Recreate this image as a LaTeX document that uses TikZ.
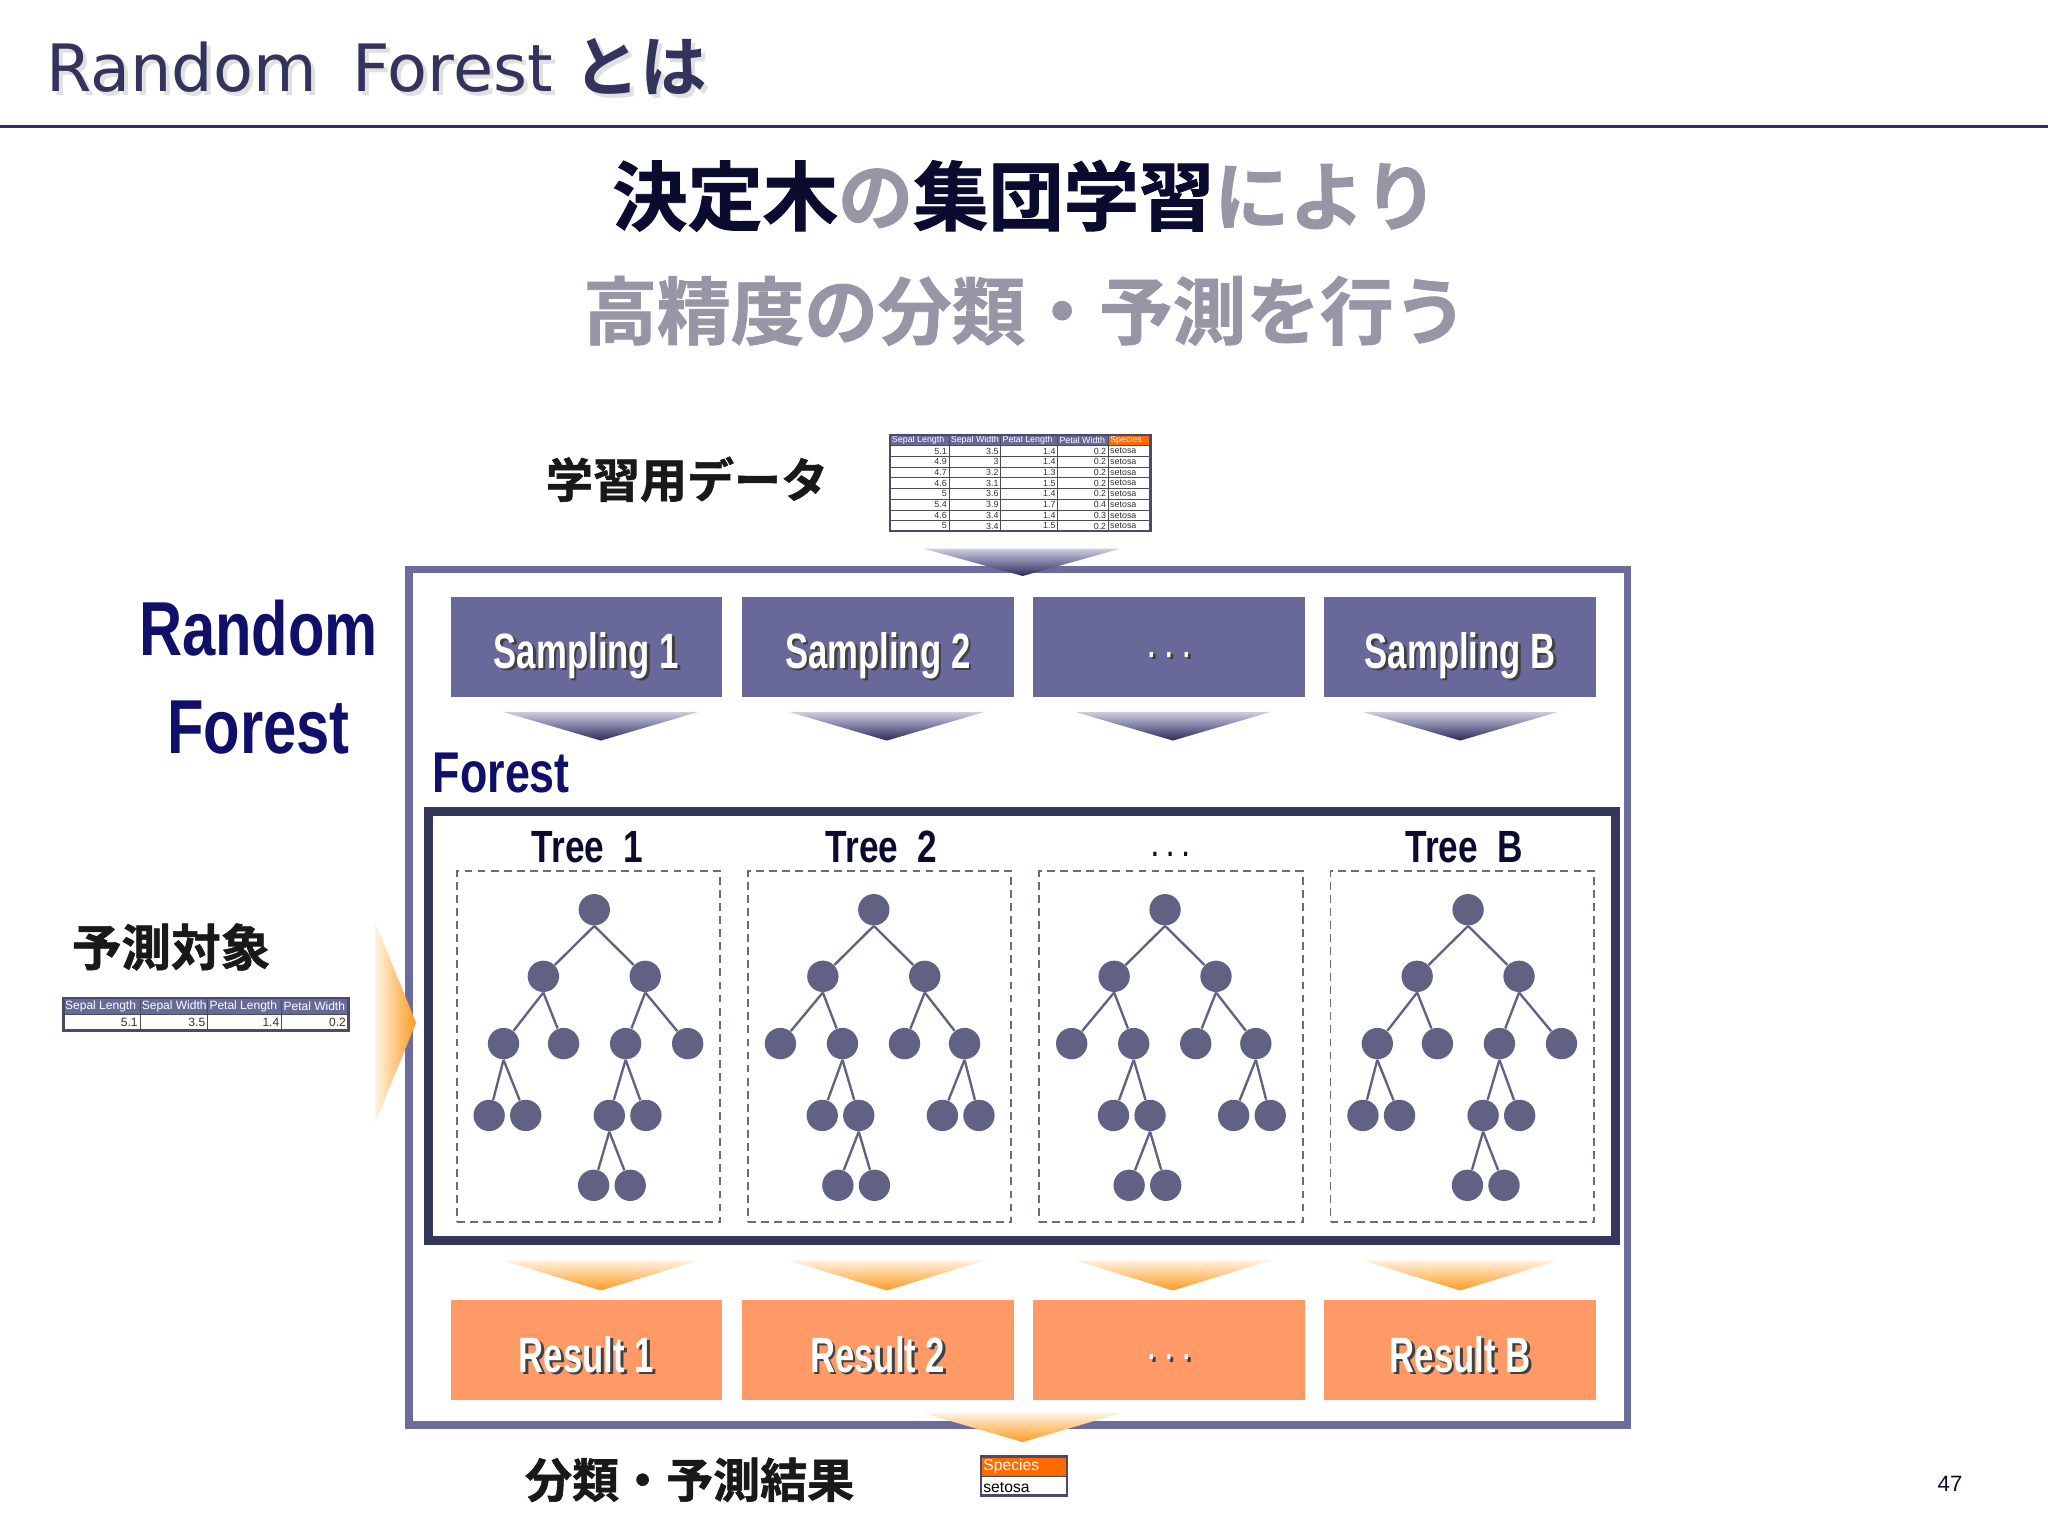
\documentclass[tikz,border=0pt]{standalone}
\usepackage{fontspec}
\setmainfont{Liberation Sans}
\newfontfamily\jpb{Noto Sans CJK JP}[UprightFont=* Bold, FakeBold=1.2]
\newfontfamily\jpt{Noto Sans CJK JP}[UprightFont=* Bold]
\newfontfamily\dv{DejaVu Sans}
\newfontfamily\condA{Liberation Sans}[UprightFont=* Bold, FakeStretch=0.78]
\newfontfamily\condB{Liberation Sans}[UprightFont=* Bold, FakeStretch=0.7]
\usetikzlibrary{calc}
\definecolor{sampc}{HTML}{68689A}
\definecolor{outerc}{HTML}{6C6C9C}
\definecolor{innerc}{HTML}{36365C}
\definecolor{resc}{HTML}{FF9A66}
\definecolor{treec}{HTML}{616183}
\definecolor{navy}{HTML}{10106A}
\definecolor{titlec}{HTML}{33335C}
\definecolor{headdark}{HTML}{0B0B30}
\definecolor{headgray}{HTML}{9696A6}
\definecolor{lineC}{HTML}{2E2A70}
\definecolor{spc}{HTML}{FF6A00}
\definecolor{alight}{HTML}{CDCDE2}
\definecolor{adark}{HTML}{2A2A5E}
\definecolor{olight}{HTML}{FFF2DE}
\definecolor{odark}{HTML}{FF9A22}
\definecolor{tframe}{HTML}{4A4A6A}
\definecolor{dashc}{HTML}{6A6A80}
\newcommand{\shd}[1]{\leavevmode\rlap{\raisebox{-1pt}{\hspace{1pt}\textcolor{black!75}{#1}}}#1}
\newcommand{\lshd}[1]{\leavevmode\rlap{\raisebox{-1.5pt}{\hspace{1.5pt}\textcolor{black!12}{#1}}}#1}
\newcommand{\tdots}{.\hspace{0.32em}.\hspace{0.32em}.}
\newcommand{\drawtree}[4]{%
\begin{scope}[shift={(#2,#3)},xscale=#4]
\node[tn] (#1r) at (0,0) {};
\node[tn] (#1a) at (-39,51) {};
\node[tn] (#1b) at (39,51) {};
\node[tn] (#1c) at (-69.5,102.5) {};
\node[tn] (#1d) at (-23.5,102.5) {};
\node[tn] (#1e) at (24,102.5) {};
\node[tn] (#1f) at (71.5,102.5) {};
\node[tn] (#1g) at (-80.5,157.5) {};
\node[tn] (#1h) at (-52.5,157.5) {};
\node[tn] (#1i) at (11.5,157.5) {};
\node[tn] (#1j) at (39.5,157.5) {};
\node[tn] (#1k) at (-0.5,211) {};
\node[tn] (#1l) at (27.5,211) {};
\draw[te] (#1r.south) -- (#1a);
\draw[te] (#1r.south) -- (#1b);
\draw[te] (#1a.south) -- (#1c);
\draw[te] (#1a.south) -- (#1d);
\draw[te] (#1b.south) -- (#1e);
\draw[te] (#1b.south) -- (#1f);
\draw[te] (#1c.south) -- (#1g);
\draw[te] (#1c.south) -- (#1h);
\draw[te] (#1e.south) -- (#1i);
\draw[te] (#1e.south) -- (#1j);
\draw[te] (#1i.south) -- (#1k);
\draw[te] (#1i.south) -- (#1l);
\end{scope}}
\begin{document}
\begin{tikzpicture}[x=0.5pt,y=-0.5pt,
  sampbox/.style={fill=sampc, minimum width=104pt, minimum height=38.5pt, inner sep=0pt, text=white, text height=18pt, text depth=2pt, font={\fontsize{19}{19}\condB}},
  resbox/.style={fill=resc, minimum width=104pt, minimum height=38.5pt, inner sep=0pt, text=white, text height=18pt, text depth=1pt, font={\fontsize{19}{19}\condB}},
  tn/.style={circle, fill=treec, minimum size=12pt, inner sep=0pt},
  te/.style={draw=treec, line width=0.9pt},
  dbox/.style={draw=dashc, dash pattern=on 3pt off 2pt, line width=0.7pt, minimum width=100.8pt, minimum height=134.4pt, inner sep=0pt},
  treelbl/.style={anchor=base, text=headdark, font={\fontsize{17.3}{17.3}\condA}},
  jplbl/.style={text=black!90, font={\fontsize{18}{18}\jpb}},
  cellt/.style={inner sep=0pt, font={\fontsize{3.4}{3.4}\selectfont}, text=black!80},
  cellh/.style={inner sep=0pt, font={\fontsize{3.4}{3.4}\selectfont}, text=white},
  tline/.style={draw=black!70, line width=0.3pt}
]
\useasboundingbox (0,0) rectangle (1568,1176);
\fill[white] (0,0) rectangle (1568,1176);

% title
\node[anchor=base west, inner sep=0pt, text=titlec] (title) at (35,70) {\lshd{\fontsize{25}{25}\dv Random\hspace{0.55em}Forest \fontsize{25.5}{25.5}\jpt とは}};
\draw[lineC, line width=1.2pt] (0,97) -- (1568,97);

% headline
\node (h1) at (785,150) {\fontsize{28.8}{28.8}\jpb\textcolor{headdark}{決定木}\textcolor{headgray}{の}\textcolor{headdark}{集団学習}\textcolor{headgray}{により}};
\node (h2) at (785,238) {\fontsize{28.2}{28.2}\jpb\textcolor{headgray}{高精度の分類・予測を行う}};

% labels
\node[jplbl] (ld) at (526,367) {学習用データ};
\node[jplbl, font={\fontsize{19}{19}\jpb}] (yt) at (131,725) {予測対象};
\node[jplbl] (kk) at (528,1133) {分類・予測結果};
\node[anchor=base, text=navy, font={\fontsize{29.3}{29.3}\condA}] (rf1) at (198,502) {Random};
\node[anchor=base, text=navy, font={\fontsize{29.3}{29.3}\condA}] (rf2) at (198,577) {Forest};
\node (pg) at (1493,1136) {\fontsize{8.5}{8.5}\selectfont\textcolor{headdark}{47}};

% top data table
\begin{scope}
\clip (681.5,333) rectangle (881,406);
\fill[white] (681.5,333) rectangle (881,407);
\fill[sampc] (681.5,333) rectangle (848.6,341.2);
\fill[spc] (848.6,333) rectangle (881,341.2);
\foreach \i/\xl/\t in {1/681.5/Sepal Length, 2/726.6/Sepal Width, 3/766.2/Petal Length, 4/809.8/Petal Width, 5/848.6/Species}
  \node[cellh, anchor=west] (th\i) at (\xl+1,337.1) {\t};
\foreach \r/\a/\b/\c/\d in {1/5.1/3.5/1.4/0.2, 2/4.9/3/1.4/0.2, 3/4.7/3.2/1.3/0.2, 4/4.6/3.1/1.5/0.2, 5/5/3.6/1.4/0.2, 6/5.4/3.9/1.7/0.4, 7/4.6/3.4/1.4/0.3, 8/5/3.4/1.5/0.2} {
  \pgfmathsetmacro\yy{341.2+(\r-0.5)*8.2}
  \node[cellt, anchor=east] (tra\r) at (725.3,\yy) {\a};
  \node[cellt, anchor=east] (trb\r) at (764.9,\yy) {\b};
  \node[cellt, anchor=east] (trc\r) at (808.5,\yy) {\c};
  \node[cellt, anchor=east] (trd\r) at (847.3,\yy) {\d};
  \node[cellt, anchor=west] (tre\r) at (849.6,\yy) {setosa};
}
\foreach \k in {0,...,7}
  \draw[tline] (681.5,{341.2+\k*8.2}) -- (881,{341.2+\k*8.2});
\foreach \xv in {726.6,766.2,809.8,848.6}
  \draw[tline] (\xv,333) -- (\xv,407);
\end{scope}
\draw[tframe, line width=1pt] (681.5,333) rectangle (881,406.5);

% small input table
\fill[white] (48.5,764) rectangle (266.7,789);
\fill[sampc] (48.5,764) rectangle (266.7,776.5);
\foreach \i/\xl/\t in {1/48.5/Sepal Length, 2/107.2/Sepal Width, 3/159/Petal Length, 4/215.7/Petal Width}
  \node[cellh, anchor=west, font={\fontsize{4.6}{4.6}\selectfont}] (sh\i) at (\xl+1,770.5) {\t};
\foreach \i/\xr/\v in {1/107.2/5.1, 2/159/3.5, 3/215.7/1.4, 4/266.7/0.2}
  \node[cellt, anchor=east, font={\fontsize{4.6}{4.6}\selectfont}] (sv\i) at (\xr-1.5,783) {\v};
\foreach \xv in {107.2,159,215.7}
  \draw[tline] (\xv,764) -- (\xv,789);
\draw[tline] (48.5,776.5) -- (266.7,776.5);
\draw[tframe, line width=1pt] (48.5,764) rectangle (266.7,789);

% species table
\fill[white] (751,1115) rectangle (817,1145);
\fill[spc] (751,1115) rectangle (817,1130);
\node[cellh, anchor=west, font={\fontsize{6}{6}\selectfont}] (spH) at (752.5,1123) {Species};
\node[cellt, anchor=west, text=black, font={\fontsize{6}{6}\selectfont}] (spV) at (752.5,1139) {setosa};
\draw[tline] (751,1130) -- (817,1130);
\draw[tframe, line width=1pt] (751,1115) rectangle (817,1145);

% outer and inner boxes
\node[draw=outerc, line width=3pt, minimum width=466.5pt, minimum height=327.5pt, inner sep=0pt] (outer) at (779.5,763.5) {};
\node[draw=innerc, line width=3.5pt, minimum width=454.5pt, minimum height=164.5pt, inner sep=0pt] (inner) at (782.5,785.5) {};

% top and bottom big arrows
\coordinate (ta) at (783,441);
\shade[top color=alight, bottom color=adark] ($(ta)+(-76,-21)$) -- ($(ta)+(75,-21)$) -- (ta) -- cycle;
\coordinate (ba) at (783,1104);
\shade[top color=olight, bottom color=odark] ($(ba)+(-76,-22)$) -- ($(ba)+(75,-22)$) -- (ba) -- cycle;

% left arrow
\coordinate (la) at (318.5,783);
\shade[left color=olight, right color=odark] ($(la)+(-31,-76)$) -- (la) -- ($(la)+(-31,76)$) -- cycle;

% sampling boxes
\node[sampbox] (s1) at (449,495.5) {\shd{Sampling 1}};
\node[sampbox] (s2) at (672,495.5) {\shd{Sampling 2}};
\node[sampbox, font={\fontsize{13}{13}\condB}] (s3) at (895,495.5) {\raisebox{4.2pt}{\shd{\tdots}}};
\node[sampbox] (s4) at (1118,495.5) {\shd{Sampling B}};

% purple arrows
\foreach \tx/\n in {460/1, 679/2, 898/3, 1118/4} {
  \coordinate (pa\n) at (\tx,567);
  \shade[top color=alight, bottom color=adark] ($(pa\n)+(-75,-22)$) -- ($(pa\n)+(75,-22)$) -- (pa\n) -- cycle;
}

% forest label
\node[anchor=base west, inner sep=0pt, text=navy, font={\fontsize{22}{22}\condA}] (fl) at (331,607) {Forest};

% tree labels and dashed boxes
\node[treelbl] (tl1) at (450,660) {Tree\ \ 1};
\node[treelbl] (tl2) at (675,660) {Tree\ \ 2};
\node[treelbl, font={\fontsize{11}{11}\condA}] (tl3) at (896,656) {\tdots};
\node[treelbl] (tl4) at (1121,660) {Tree\ \ B};
\node[dbox] (d1) at (450.5,801.5) {};
\node[dbox] (d2) at (673.5,801.5) {};
\node[dbox] (d3) at (896.5,801.5) {};
\node[dbox] (d4) at (1119.5,801.5) {};

% trees
\drawtree{ta}{455}{696.5}{1}
\drawtree{tb}{669}{696.5}{-1}
\drawtree{tc}{892}{696.5}{-1}
\drawtree{td}{1124}{696.5}{1}

% orange arrows
\foreach \tx/\n in {460/1, 679/2, 898/3, 1118/4} {
  \coordinate (oa\n) at (\tx,988);
  \shade[top color=olight, bottom color=odark] ($(oa\n)+(-75,-23)$) -- ($(oa\n)+(75,-23)$) -- (oa\n) -- cycle;
}

% result boxes
\node[resbox] (r1) at (449,1033.5) {\shd{Result 1}};
\node[resbox] (r2) at (672,1033.5) {\shd{Result 2}};
\node[resbox, font={\fontsize{13}{13}\condB}] (r3) at (895,1033.5) {\raisebox{4.8pt}{\shd{\tdots}}};
\node[resbox] (r4) at (1118,1033.5) {\shd{Result B}};
\end{tikzpicture}
\end{document}
